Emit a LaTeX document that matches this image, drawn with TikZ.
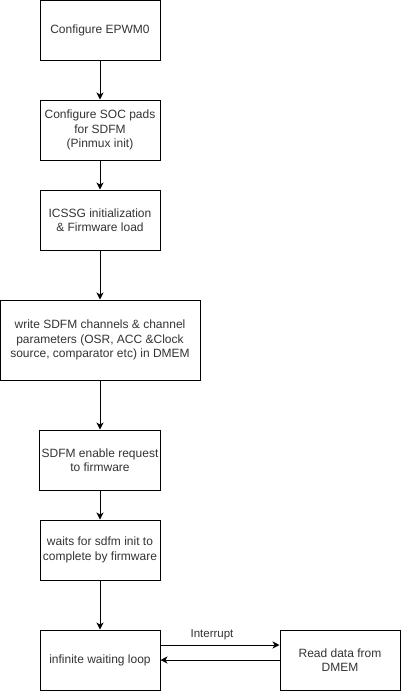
\documentclass[tikz,border=0pt]{standalone}
\usepackage{fontspec}
\setmainfont{Liberation Sans}
\usetikzlibrary{arrows.meta}

\tikzset{
	stepbox/.style={draw, line width=1pt, minimum width=120pt, minimum height=60pt,
		align=center, inner sep=2pt, font=\fontsize{12pt}{14.5pt}\selectfont, text=black!80},
	flow/.style={line width=1pt, -{Stealth[length=7pt, width=7pt, inset=2pt]}}
}

\begin{document}
\begin{tikzpicture}[x=1pt, y=-1pt]
		\useasboundingbox (0,0) rectangle (401,691);

		% draw the steps
		\node [stepbox] (epwm) at (100, 30) {Configure EPWM0};
		\node [stepbox] (pads) at (100, 130) {Configure SOC pads\\for SDFM\\(Pinmux init)};
		\node [stepbox] (icssg) at (100, 220) {ICSSG initialization\\\& Firmware load};
		\node [stepbox, minimum width=200pt, minimum height=80pt] (param) at (100, 340)
			{write SDFM channels \& channel\\parameters (OSR, ACC \&Clock\\source, comparator etc) in DMEM};
		\node [stepbox] (enable) at (100, 460) {SDFM enable request\\to firmware};
		\node [stepbox] (waitinit) at (100, 550) {waits for sdfm init to\\complete by firmware};
		\node [stepbox] (loop) at (100, 660) {infinite waiting loop};
		\node [stepbox] (read) at (340, 660) {Read data from\\DMEM};

		% draw the arrows between them
		\draw [flow] (epwm) -- (pads);
		\draw [flow] (pads) -- (icssg);
		\draw [flow] (icssg) -- (param);
		\draw [flow] (param) -- (enable);
		\draw [flow] (enable) -- (waitinit);
		\draw [flow] (waitinit) -- (loop);

		% interrupt and return
		\draw [flow] ([yshift=15pt]loop.east) -- ([yshift=15pt]read.west)
			node [pos=0.5, above=1pt, xshift=-8pt, font=\fontsize{11.5pt}{13pt}\selectfont, text=black!80] {Interrupt};
		\draw [flow] (read.west) -- (loop.east);
\end{tikzpicture}
\end{document}
